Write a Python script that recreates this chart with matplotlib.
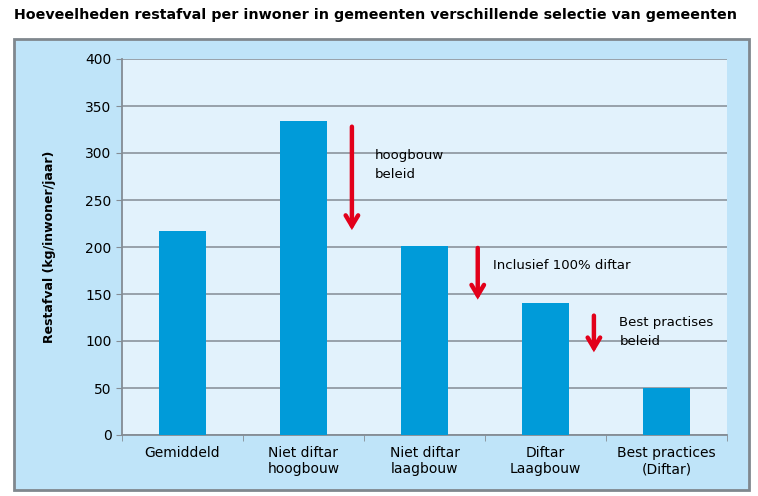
import numpy as np
import matplotlib.pyplot as plt
from matplotlib.patches import Rectangle

categories = ['Gemiddeld', 'Niet diftar\nhoogbouw', 'Niet diftar\nlaagbouw',
              'Diftar\nLaagbouw', 'Best practices\n(Diftar)']
values = [217, 334, 201, 140, 50]

# arrows: x position (category units), start y, end y
arrow_x = [1.40, 2.44, 3.40]
arrow_start = [328, 199, 127]
arrow_end = [218, 144, 88]
notes = ['hoogbouw\nbeleid', 'Inclusief 100% diftar', 'Best practises\nbeleid']
note_x = [1.59, 2.57, 3.61]
note_y = [287, 180, 110]

fig = plt.figure(figsize=(7.58, 4.96), dpi=100)
W, H = 758, 496

# outer chart frame
fig.patches.append(Rectangle((14 / W, 1 - 490 / H), 735 / W, 451 / H,
                             transform=fig.transFigure, facecolor='#BFE4F9',
                             edgecolor='#80878E', linewidth=2, zorder=-1))

fig.text(14 / W, 1 - 15 / H, 'Hoeveelheden restafval per inwoner in gemeenten verschillende selectie van gemeenten',
         fontsize=10.3, fontweight='bold', va='center', ha='left')

ax = fig.add_axes([122 / W, 1 - 435 / H, 605 / W, 376 / H])
ax.set_facecolor('#E2F2FC')
x = np.arange(len(categories))
ax.bar(x, values, width=0.39, color='#009BD9', zorder=3)
ax.set_xlim(-0.5, len(categories) - 0.5)
ax.set_ylim(0, 400)
ax.set_yticks(np.arange(0, 401, 50))
ax.yaxis.grid(True, color='#848C94', linewidth=1.1)
ax.set_axisbelow(True)
ax.set_xticks(x)
ax.set_xticklabels(categories, fontsize=10)
ax.set_xticks(np.arange(-0.5, len(categories), 1), minor=True)
ax.tick_params(axis='x', which='major', length=0, pad=8)
ax.tick_params(axis='x', which='minor', length=4, color='#848C94')
ax.tick_params(axis='y', length=4, color='#848C94', labelsize=10)
for s in ['top', 'right']:
    ax.spines[s].set_visible(False)
for s in ['left', 'bottom']:
    ax.spines[s].set_color('#848C94')
    ax.spines[s].set_linewidth(1.3)
ax.set_ylabel('Restafval (kg/inwoner/jaar)', fontsize=9, fontweight='bold')
ax.yaxis.set_label_coords(-(122 - 56) / 605, 0.5)

for ax_, y0, y1 in zip(arrow_x, arrow_start, arrow_end):
    ax.annotate('', xy=(ax_, y1), xytext=(ax_, y0),
                arrowprops=dict(arrowstyle='->,head_length=0.75,head_width=0.45',
                                color='#E2001A', lw=3.2, shrinkA=0, shrinkB=0,
                                joinstyle='miter'), zorder=4)

for tx, ty, t in zip(note_x, note_y, notes):
    ax.text(tx, ty, t, fontsize=9.5, ha='left', va='center', linespacing=1.6, zorder=5)

fig.savefig('out.png', dpi=100)
